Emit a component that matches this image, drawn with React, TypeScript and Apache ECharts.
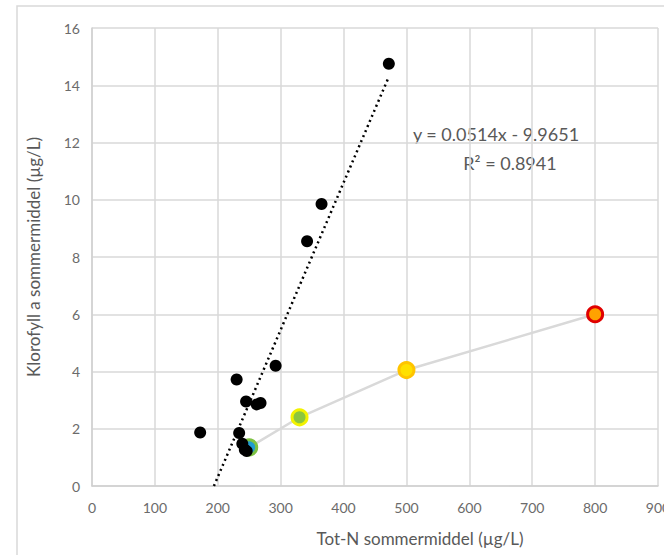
import React, { useEffect, useRef } from "react";
import * as echarts from "echarts";

const totN = [472, 365, 342, 292, 230, 245, 262, 268, 172, 234, 239, 243, 246];
const klorofyll = [14.75, 9.85, 8.55, 4.2, 3.72, 2.95, 2.85, 2.9, 1.87, 1.85, 1.48, 1.27, 1.22];

const classN = [250, 330, 500, 800];
const classChl = [1.35, 2.4, 4.05, 6.0];
const classFill = ["#1f9bd1", "#8cc63f", "#ffe000", "#ffa200"];
const classBorder = ["#7dc242", "#f2f200", "#ffc400", "#e00000"];

const slope = 0.0514;
const intercept = -9.9651;
const trendX = [-intercept / slope, 472];

const xTicks = [0, 100, 200, 300, 400, 500, 600, 700, 800, 900];

const FONT = "Lato";
const GRAY = "#6b6b6b";

export default function App() {
  const ref = useRef<HTMLDivElement>(null);
  useEffect(() => {
    const chart = echarts.init(ref.current!, null, { renderer: "svg" });
    chart.setOption({
      animation: false,
      backgroundColor: "#ffffff",
      textStyle: { fontFamily: FONT },
      grid: {
        left: 92,
        right: 6,
        top: 28,
        bottom: 69,
        containLabel: false,
        outerBoundsMode: "none",
      },
      xAxis: {
        type: "value",
        min: 0,
        max: 900,
        interval: 100,
        axisLine: { show: true, lineStyle: { color: "#d0d0d0", width: 1.5 } },
        axisTick: { show: false },
        splitLine: { show: true, lineStyle: { color: "#d9d9d9", width: 1.5 } },
        axisLabel: {
          color: GRAY,
          fontSize: 14,
          fontFamily: FONT,
          margin: 14,
          hideOverlap: false,
          formatter: (v: number) => (xTicks.includes(v) ? String(v) : ""),
        },
      },
      yAxis: {
        type: "value",
        min: 0,
        max: 16,
        interval: 2,
        axisLine: { show: true, lineStyle: { color: "#d0d0d0", width: 1.5 } },
        axisTick: { show: false },
        splitLine: { show: true, lineStyle: { color: "#d9d9d9", width: 1.5 } },
        axisLabel: { color: GRAY, fontSize: 14, fontFamily: FONT, margin: 12 },
      },
      graphic: [
        {
          type: "rect",
          shape: { x: 17, y: 6, width: 800, height: 700 },
          style: { fill: "none", stroke: "#d9d9d9", lineWidth: 1.5 },
          z: -1,
        },
        {
          type: "text",
          x: 420,
          y: 538,
          style: {
            text: "Tot-N sommermiddel (µg/L)",
            fill: "#595959",
            font: `17px ${FONT}`,
            textAlign: "center",
            textVerticalAlign: "middle",
          },
        },
        {
          type: "text",
          x: 33,
          y: 257,
          rotation: Math.PI / 2,
          style: {
            text: "Klorofyll a sommermiddel (µg/L)",
            fill: "#595959",
            font: `17px ${FONT}`,
            textAlign: "center",
            textVerticalAlign: "middle",
          },
        },
        {
          type: "text",
          x: 496,
          y: 134,
          style: {
            text: "y = 0.0514x - 9.9651",
            fill: "#595959",
            font: `18px ${FONT}`,
            textAlign: "center",
            textVerticalAlign: "middle",
          },
        },
        {
          type: "text",
          x: 510,
          y: 163,
          style: {
            text: "R² = 0.8941",
            fill: "#595959",
            font: `18px ${FONT}`,
            textAlign: "center",
            textVerticalAlign: "middle",
          },
        },
      ],
      series: [
        {
          type: "line",
          data: classN.map((x, i) => ({
            value: [x, classChl[i]],
            itemStyle: { color: classFill[i], borderColor: classBorder[i], borderWidth: 3 },
          })),
          symbol: "circle",
          symbolSize: 15,
          showSymbol: true,
          lineStyle: { color: "#d9d9d9", width: 2.5 },
          z: 2,
        },
        {
          type: "line",
          data: trendX.map((x) => [x, slope * x + intercept]),
          showSymbol: false,
          symbol: "none",
          lineStyle: { color: "#000000", width: 2.5, type: [2, 3.5] },
          z: 3,
        },
        {
          type: "scatter",
          data: totN.map((x, i) => [x, klorofyll[i]]),
          symbol: "circle",
          symbolSize: 12,
          itemStyle: { color: "#000000", opacity: 1 },
          z: 4,
        },
      ],
    });
    return () => chart.dispose();
  }, []);
  return (
    <div
      ref={ref}
      style={{ position: "absolute", left: 0, top: 0, width: 664, height: 555 }}
    />
  );
}
